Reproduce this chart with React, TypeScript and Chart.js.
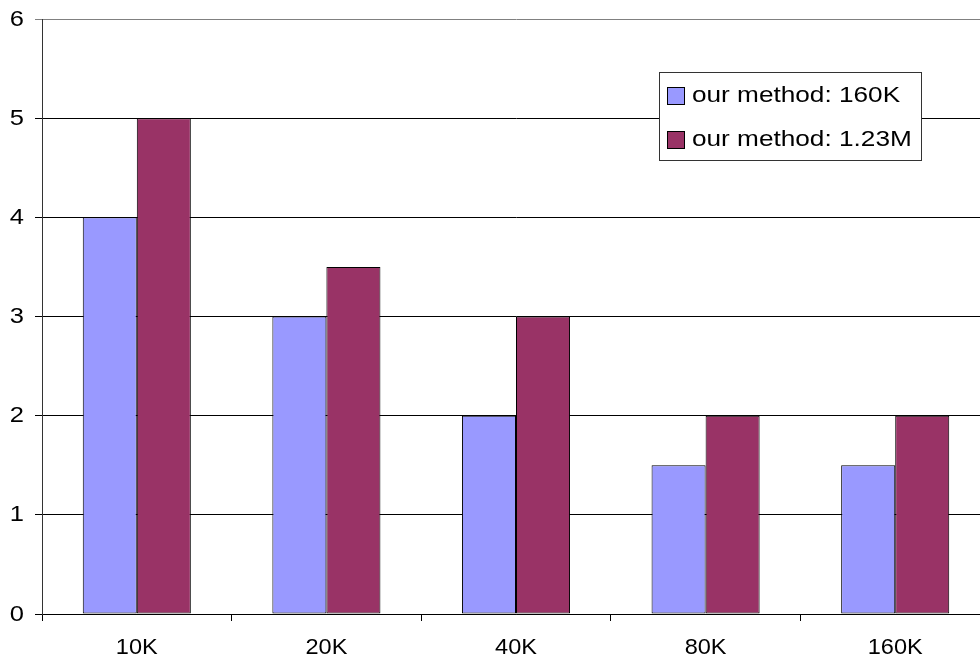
import React, { useEffect, useRef } from "react";
import { Chart, registerables } from "chart.js";

Chart.register(...registerables);

// Data
const categories = ["10K", "20K", "40K", "80K", "160K"];
const seriesNames = ["our method: 160K", "our method: 1.23M"];
const method160K = [4, 3, 2, 1.5, 1.5];
const method123M = [5, 3.5, 3, 2, 2];
const yTickValues = [0, 1, 2, 3, 4, 5, 6];

const seriesColors = ["#9999FF", "#993366"];

const FONT = "22px 'Liberation Sans', Arial, sans-serif";

// Text is drawn slightly widened, as in the original chart's font
function drawWideText(
  ctx: CanvasRenderingContext2D,
  text: string,
  x: number,
  y: number,
  align: CanvasTextAlign,
  scaleX: number
) {
  ctx.save();
  ctx.translate(x, y);
  ctx.scale(scaleX, 1);
  ctx.font = FONT;
  ctx.fillStyle = "#000";
  ctx.textAlign = align;
  ctx.textBaseline = "middle";
  ctx.fillText(text, 0, 0);
  ctx.restore();
}

// Axis labels and the boxed legend inside the plot
const labelsPlugin = {
  id: "labelsPlugin",
  afterDraw(chart: any) {
    const ctx: CanvasRenderingContext2D = chart.ctx;
    const xs = chart.scales.x;
    const ys = chart.scales.y;

    ys.ticks.forEach((t: any) => {
      drawWideText(ctx, String(t.value), 24, ys.getPixelForValue(t.value) + 0.5, "right", 1.16);
    });
    (chart.data.labels as string[]).forEach((lab, i) => {
      drawWideText(ctx, lab, xs.getPixelForValue(i), 648, "center", 1.07);
    });

    // legend
    const boxL = 659.5;
    const boxT = 72.5;
    const boxW = 262;
    const boxH = 88;
    ctx.save();
    ctx.fillStyle = "#fff";
    ctx.fillRect(boxL, boxT, boxW, boxH);
    ctx.strokeStyle = "#333";
    ctx.lineWidth = 1;
    ctx.strokeRect(boxL, boxT, boxW, boxH);
    ctx.restore();

    chart.data.datasets.forEach((ds: any, i: number) => {
      const cy = 96 + i * 44;
      ctx.save();
      ctx.fillStyle = ds.backgroundColor;
      ctx.fillRect(667.5, cy - 8.5, 17, 17);
      ctx.strokeStyle = "#000";
      ctx.lineWidth = 1;
      ctx.strokeRect(667.5, cy - 8.5, 17, 17);
      ctx.restore();
      drawWideText(ctx, ds.label, 692, cy, "left", 1.19);
    });
  },
};

export default function App() {
  const canvasRef = useRef<HTMLCanvasElement | null>(null);

  useEffect(() => {
    if (!canvasRef.current) return;
    const chart = new Chart(canvasRef.current, {
      type: "bar",
      data: {
        labels: categories,
        datasets: [
          {
            label: seriesNames[0],
            data: method160K,
            backgroundColor: seriesColors[0],
            borderColor: "#000",
            borderWidth: 1,
            borderSkipped: false,
          },
          {
            label: seriesNames[1],
            data: method123M,
            backgroundColor: seriesColors[1],
            borderColor: "#000",
            borderWidth: 1,
            borderSkipped: false,
          },
        ],
      },
      options: {
        responsive: false,
        animation: false,
        devicePixelRatio: 1,
        layout: { padding: { left: 0, top: 19, right: 10, bottom: 0 } },
        datasets: {
          bar: { barPercentage: 1, categoryPercentage: 0.57 },
        },
        plugins: {
          legend: { display: false },
          tooltip: { enabled: false },
        },
        scales: {
          x: {
            type: "category",
            offset: true,
            grid: {
              offset: true,
              drawOnChartArea: false,
              tickLength: 7,
              color: "#000",
            },
            border: { color: "#000", width: 1 },
            ticks: { display: false },
            afterFit: (s: any) => {
              s.height = 43;
            },
          },
          y: {
            min: 0,
            max: 6,
            afterBuildTicks: (s: any) => {
              s.ticks = yTickValues.map((v) => ({ value: v }));
            },
            grid: {
              tickLength: 7,
              color: (c: any) => (c.tick && c.tick.value === 6 ? "#808080" : "#000"),
            },
            border: { color: "#333", width: 1 },
            ticks: { display: false },
            afterFit: (s: any) => {
              s.width = 42;
            },
          },
        },
      },
      plugins: [labelsPlugin],
    });
    return () => chart.destroy();
  }, []);

  return (
    <div
      style={{
        position: "absolute",
        left: 0,
        top: 0,
        width: 980,
        height: 657,
        overflow: "hidden",
        background: "#fff",
      }}
    >
      <canvas ref={canvasRef} width={1000} height={657} />
    </div>
  );
}
